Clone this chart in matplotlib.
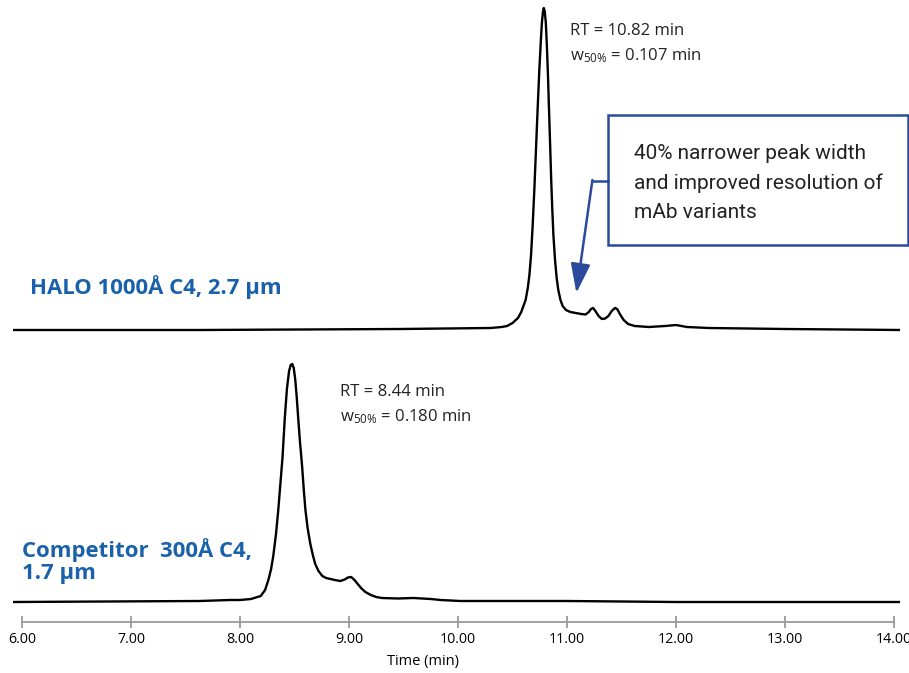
import numpy as np
import matplotlib.pyplot as plt

plt.rcParams['mathtext.fontset'] = 'custom'
plt.rcParams['mathtext.rm'] = 'Open Sans'
plt.rcParams['mathtext.it'] = 'Open Sans'

# HALO 1000Å C4 trace (time in min, signal)
halo_t = [5.92, 7.63, 9.47, 10.30, 10.40, 10.45, 10.50, 10.55, 10.58, 10.60, 10.62, 10.64,
          10.655, 10.67, 10.685, 10.70, 10.715, 10.73, 10.745, 10.76, 10.77, 10.78, 10.787,
          10.795, 10.805, 10.815, 10.825, 10.835, 10.845, 10.855, 10.865, 10.875, 10.89,
          10.905, 10.92, 10.94, 10.96, 10.99, 11.03, 11.08, 11.13, 11.17, 11.20, 11.22,
          11.24, 11.26, 11.29, 11.32, 11.35, 11.38, 11.41, 11.44, 11.46, 11.49, 11.52,
          11.56, 11.62, 11.75, 11.90, 12.00, 12.10, 12.30, 13.00, 14.07]
halo_s = [0, 0, 1, 2, 3, 4, 7, 12, 18, 24, 30, 42,
          55, 75, 105, 140, 180, 220, 258, 290, 308, 319, 322,
          319, 308, 285, 255, 220, 185, 150, 120, 95, 70,
          52, 40, 30, 24, 20, 18, 17, 16, 15.5, 18, 21,
          22, 19, 14, 11, 11.5, 14, 19, 22, 21, 15, 10,
          6, 4, 3, 4, 5, 3, 2, 1, 0]

# Competitor 300Å C4 trace
comp_t = [5.92, 7.63, 7.91, 8.00, 8.10, 8.19, 8.23, 8.26, 8.285, 8.305, 8.33, 8.35,
          8.37, 8.39, 8.41, 8.43, 8.45, 8.465, 8.479, 8.493, 8.507, 8.52, 8.535, 8.55,
          8.57, 8.585, 8.60, 8.62, 8.645, 8.67, 8.69, 8.72, 8.755, 8.79, 8.83, 8.87,
          8.92, 8.96, 8.99, 9.02, 9.05, 9.08, 9.11, 9.15, 9.20, 9.25, 9.30, 9.45,
          9.59, 9.75, 9.84, 10.02, 11.0, 12.0, 13.0, 14.07]
comp_s = [0, 1, 2, 2, 3, 6, 12, 22, 33, 46, 68, 91,
          118, 145, 183, 213, 231, 237, 238, 234, 222, 205, 182, 160,
          135, 112, 92, 74, 58, 46, 38, 31, 26, 24, 23, 22,
          21, 22.5, 24.5, 25, 22, 18, 14, 10, 7, 5, 4, 3.5,
          4, 3, 2, 1, 1, 0, 0, 0]

ticks = [6, 7, 8, 9, 10, 11, 12, 13, 14]
offset = 272

fig = plt.figure(figsize=(9.09, 6.73), dpi=100)
ax = fig.add_axes([13 / 909, 51 / 673, 887 / 909, 622 / 673])

ax.plot(np.array(halo_t), np.array(halo_s) + offset, color="black", lw=1.7)
ax.plot(comp_t, comp_s, color="black", lw=1.7)

ax.set_xlim(5.917, 14.055)
ax.set_ylim(-20, 602)

for s in ["left", "right", "top"]:
    ax.spines[s].set_visible(False)
ax.spines["bottom"].set_bounds(6, 14)
ax.spines["bottom"].set_color("#9a9a9a")
ax.spines["bottom"].set_linewidth(1.3)
ax.set_yticks([])
ax.set_xticks(ticks)
ax.set_xticklabels(["%.2f" % v for v in ticks], fontsize=10.3, family="Open Sans")
ax.tick_params(axis="x", direction="inout", length=9, width=1.3, color="#9a9a9a", pad=3)
ax.text(9.68, -59, "Time (min)", fontsize=10.5, family="Open Sans", ha="center", va="center")

blue = "#1a61ab"
ax.text(6.076, 315, "HALO 1000Å C4, 2.7 µm", color=blue, fontsize=15.9, family="Open Sans",
        weight="bold", va="center")
ax.text(6.003, 41, "Competitor  300Å C4,\n1.7 µm", color=blue, fontsize=15.9, family="Open Sans",
        weight="bold", va="center", linespacing=1.12)

ax.text(11.03, 571, "RT = 10.82 min", fontsize=12, family="Open Sans", color="#222222", va="center")
ax.text(11.03, 546, r"w$_{50\%}$ = 0.107 min", fontsize=12, family="Open Sans", color="#222222", va="center")
ax.text(8.92, 210, "RT = 8.44 min", fontsize=12, family="Open Sans", color="#222222", va="center")
ax.text(8.92, 185, r"w$_{50\%}$ = 0.180 min", fontsize=12, family="Open Sans", color="#222222", va="center")

# callout box
navy = "#2b4a9b"
box = plt.Rectangle((11.379, 357), 2.75, 130, fill=False, edgecolor=navy, lw=1.8, clip_on=False)
ax.add_patch(box)
ax.text(11.617, 419, "40% narrower peak width\nand improved resolution of\nmAb variants",
        fontsize=15, family="Roboto", color="#222222", va="center", linespacing=1.68)
ax.plot([11.379, 11.233], [421, 421], color=navy, lw=1.8)
ax.annotate("", xy=(11.086, 309), xytext=(11.233, 422),
            arrowprops=dict(arrowstyle="-|>,head_length=0.9,head_width=0.3",
                            color=navy, lw=1.8, mutation_scale=20, shrinkA=0, shrinkB=0))

plt.savefig("out.png", dpi=100)
